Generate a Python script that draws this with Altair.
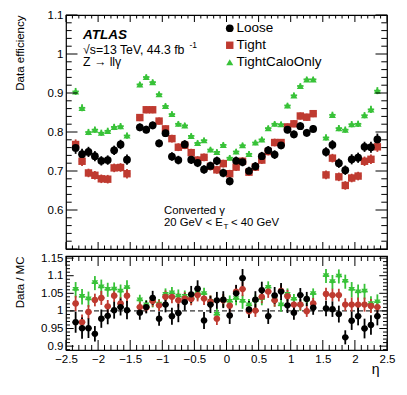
import altair as alt
import pandas as pd

# ---------------- data ----------------
series = ["Loose", "Tight", "TightCaloOnly"]
colors = ["#000000", "#bf3a30", "#38c238"]
top_shapes = ["circle", "square", "triangle-up"]
ratio_shapes = ["circle", "circle", "triangle-down"]

eta = [-2.35, -2.25, -2.15, -2.05, -1.95, -1.85, -1.75, -1.65, -1.55,
       -1.35, -1.25, -1.15, -1.05, -0.95, -0.85, -0.75, -0.65, -0.55, -0.45, -0.35, -0.25, -0.15, -0.05,
       0.05, 0.15, 0.25, 0.35, 0.45, 0.55, 0.65, 0.75, 0.85, 0.95, 1.05, 1.15, 1.25, 1.35,
       1.55, 1.65, 1.75, 1.85, 1.95, 2.05, 2.15, 2.25, 2.35]

loose_eff = [0.759, 0.743, 0.749, 0.738, 0.726, 0.728, 0.753, 0.768, 0.729,
             0.812, 0.806, 0.817, 0.771, 0.797, 0.737, 0.728, 0.768, 0.729, 0.721, 0.704, 0.713, 0.726, 0.695,
             0.674, 0.726, 0.723, 0.700, 0.712, 0.738, 0.753, 0.742, 0.766, 0.806, 0.794, 0.815, 0.798, 0.808,
             0.749, 0.767, 0.720, 0.702, 0.730, 0.734, 0.762, 0.761, 0.781]
tight_eff = [0.768, 0.725, 0.695, 0.689, 0.680, 0.679, 0.708, 0.709, 0.693,
             0.837, 0.857, 0.857, 0.828, 0.808, 0.783, 0.761, 0.766, 0.747, 0.728, 0.735, 0.712, 0.703, 0.719,
             0.693, 0.710, 0.725, 0.697, 0.710, 0.728, 0.750, 0.773, 0.773, 0.813, 0.821, 0.841, 0.838, 0.847,
             0.690, 0.733, 0.685, 0.663, 0.682, 0.687, 0.725, 0.730, 0.762]
calo_eff = [0.904, 0.862, 0.800, 0.806, 0.798, 0.803, 0.813, 0.815, 0.791,
            0.922, 0.941, 0.928, 0.897, 0.867, 0.846, 0.821, 0.817, 0.790, 0.772, 0.779, 0.755, 0.749, 0.767,
            0.734, 0.750, 0.766, 0.744, 0.773, 0.781, 0.810, 0.821, 0.820, 0.868, 0.894, 0.918, 0.935, 0.935,
            0.786, 0.844, 0.810, 0.806, 0.820, 0.821, 0.843, 0.858, 0.906]

loose_err = [0.015, 0.014, 0.013, 0.013, 0.012, 0.012, 0.012, 0.012, 0.013,
             0.010, 0.010, 0.010, 0.010, 0.010, 0.011, 0.011, 0.011, 0.011, 0.011, 0.011, 0.011, 0.011, 0.011,
             0.011, 0.011, 0.011, 0.011, 0.011, 0.011, 0.011, 0.011, 0.010, 0.010, 0.010, 0.010, 0.010, 0.010,
             0.012, 0.012, 0.012, 0.012, 0.013, 0.013, 0.013, 0.014, 0.015]
tight_err = [0.013, 0.012, 0.011, 0.011, 0.011, 0.011, 0.011, 0.011, 0.012,
             0.009, 0.009, 0.009, 0.009, 0.009, 0.010, 0.010, 0.010, 0.010, 0.010, 0.010, 0.010, 0.010, 0.010,
             0.010, 0.010, 0.010, 0.010, 0.010, 0.010, 0.010, 0.010, 0.009, 0.009, 0.009, 0.009, 0.009, 0.009,
             0.011, 0.011, 0.011, 0.011, 0.011, 0.011, 0.012, 0.012, 0.013]
calo_err = [0.009, 0.009, 0.008, 0.008, 0.008, 0.008, 0.008, 0.008, 0.008,
            0.007, 0.007, 0.007, 0.007, 0.007, 0.007, 0.007, 0.007, 0.007, 0.007, 0.007, 0.007, 0.007, 0.007,
            0.007, 0.007, 0.007, 0.007, 0.007, 0.007, 0.007, 0.007, 0.007, 0.007, 0.007, 0.007, 0.007, 0.007,
            0.008, 0.008, 0.008, 0.008, 0.008, 0.008, 0.008, 0.009, 0.009]

loose_ratio = [0.968, 0.951, 0.951, 0.935, 0.978, 0.986, 1.002, 1.011, 1.002,
               0.995, 1.011, 1.037, 0.978, 1.018, 0.985, 0.994, 1.025, 1.047, 1.063, 0.973, 1.018, 1.030, 1.032,
               0.987, 1.050, 1.093, 1.004, 1.032, 1.059, 0.985, 1.044, 1.055, 1.016, 0.995, 1.045, 1.034, 1.009,
               1.007, 1.005, 0.991, 0.925, 0.972, 0.985, 0.950, 0.960, 0.985]
tight_ratio = [1.021, 0.968, 0.997, 1.031, 1.037, 1.013, 1.043, 1.021, 1.043,
               1.011, 1.010, 1.028, 1.016, 1.040, 1.040, 1.030, 1.035, 1.034, 1.045, 1.035, 1.026, 0.978, 1.030,
               1.015, 1.055, 1.062, 0.999, 1.001, 1.040, 1.055, 1.030, 1.057, 1.042, 1.018, 1.018, 0.999, 1.021,
               1.048, 1.045, 1.045, 1.018, 1.018, 1.018, 1.018, 1.014, 1.011]
calo_ratio = [1.060, 1.040, 1.033, 1.079, 1.067, 1.060, 1.061, 1.055, 1.065,
              1.030, 1.016, 1.026, 1.018, 1.046, 1.050, 1.041, 1.040, 1.036, 1.050, 1.048, 1.026, 0.989, 1.028,
              1.026, 1.034, 1.026, 1.016, 1.028, 1.034, 1.066, 1.030, 1.016, 1.046, 1.032, 1.016, 1.030, 1.048,
              1.099, 1.082, 1.098, 1.083, 1.060, 1.053, 1.055, 1.020, 1.025]

loose_rerr = [0.030, 0.030, 0.028, 0.022, 0.026, 0.024, 0.024, 0.024, 0.026,
              0.020, 0.018, 0.020, 0.020, 0.022, 0.024, 0.026, 0.024, 0.024, 0.024, 0.024, 0.024, 0.024, 0.024,
              0.024, 0.024, 0.026, 0.024, 0.024, 0.024, 0.022, 0.024, 0.024, 0.022, 0.020, 0.020, 0.020, 0.020,
              0.022, 0.022, 0.024, 0.020, 0.026, 0.026, 0.028, 0.028, 0.026]
tight_rerr = [0.022, 0.022, 0.020, 0.018, 0.020, 0.018, 0.018, 0.018, 0.020,
              0.016, 0.015, 0.016, 0.016, 0.018, 0.018, 0.020, 0.018, 0.018, 0.018, 0.018, 0.018, 0.018, 0.018,
              0.018, 0.018, 0.020, 0.018, 0.018, 0.018, 0.018, 0.018, 0.018, 0.018, 0.016, 0.016, 0.016, 0.016,
              0.018, 0.018, 0.018, 0.018, 0.020, 0.020, 0.020, 0.020, 0.020]
calo_rerr = [0.022, 0.022, 0.022, 0.020, 0.022, 0.020, 0.020, 0.020, 0.022,
             0.016, 0.015, 0.016, 0.016, 0.018, 0.018, 0.020, 0.018, 0.018, 0.018, 0.018, 0.018, 0.018, 0.018,
             0.018, 0.018, 0.020, 0.018, 0.018, 0.018, 0.018, 0.018, 0.018, 0.018, 0.016, 0.016, 0.016, 0.016,
             0.020, 0.020, 0.020, 0.020, 0.022, 0.022, 0.022, 0.022, 0.022]

x_major_ticks = [-2.5, -2.0, -1.5, -1.0, -0.5, 0.0, 0.5, 1.0, 1.5, 2.0, 2.5]
y_top_labels = [0.6, 0.7, 0.8, 0.9, 1.0, 1.1]
y_bot_labels = [0.9, 0.95, 1.0, 1.05, 1.1, 1.15]

# ---------------- layout constants ----------------
W, H_TOP, H_BOT = 321, 234, 94
FONT = "Liberation Sans"

x_minor_ticks = [round(-2.4 + 0.1 * i, 2) for i in range(49) if round((-2.4 + 0.1 * i) * 2, 6) % 1 != 0]
y_top_major = [0.5] + y_top_labels
y_top_minor = [round(0.52 + 0.02 * i, 2) for i in range(29) if abs(round((0.52 + 0.02 * i) * 10, 6) % 1) > 1e-6]
y_bot_minor = [round(0.89 + 0.01 * i, 2) for i in range(27) if abs(round((0.89 + 0.01 * i) * 20, 6) % 1) > 1e-6]

x_scale = alt.Scale(domain=[-2.5, 2.5], nice=False, zero=False)
y_top_scale = alt.Scale(domain=[0.5, 1.1], nice=False, zero=False)
y_bot_scale = alt.Scale(domain=[0.889, 1.156], nice=False, zero=False)
color_scale = alt.Scale(domain=series, range=colors)

top_y_axis = alt.Axis(values=y_top_labels, format="~g", title="Data efficiency",
                      titleAnchor="end", titleX=-46, titleBaseline="middle",
                      labelFlush=False, labelOverlap=False, labelPadding=3)
bot_y_axis = alt.Axis(values=y_bot_labels, format="~g", title="Data / MC",
                      titleAnchor="end", titleX=-46, titleBaseline="middle",
                      labelFlush=False, labelOverlap=False, labelPadding=3)
bot_x_axis = alt.Axis(values=x_major_ticks, format="~g", labelFlush=False, labelOverlap=False,
                      labelPadding=3, title="\u03b7", titleAnchor="end", titleX=313, titleY=23,
                      titleAlign="right", titleBaseline="alphabetic", titleFontSize=14)


def long_table(values, errors):
    rows = []
    # draw order: TightCaloOnly first, Loose last (on top)
    for name, vals, errs in reversed(list(zip(series, values, errors))):
        for x, v, e in zip(eta, vals, errs):
            rows.append({"series": name, "eta": x, "val": v, "lo": v - e, "hi": v + e,
                         "xlo": x - 0.05, "xhi": x + 0.05})
    return pd.DataFrame(rows)


def bar_layers(df, yscale, xaxis, yaxis, width):
    out = []
    for name, col in reversed(list(zip(series, colors))):
        c = alt.Chart(df[df["series"] == name])
        out.append(c.mark_rule(strokeWidth=width, color=col).encode(
            x=alt.X("eta:Q", scale=x_scale, axis=xaxis),
            y=alt.Y("lo:Q", scale=yscale, axis=yaxis), y2="hi:Q"))
        out.append(c.mark_rule(strokeWidth=width, color=col).encode(
            x=alt.X("xlo:Q", scale=x_scale, axis=xaxis), x2="xhi:Q",
            y=alt.Y("val:Q", scale=yscale, axis=yaxis)))
    return out


def tick_layers(h, yscale, xaxis, yaxis, ymaj, ymin, lx, ly):
    out = []
    for vals, L in ((x_major_ticks, lx[0]), (x_minor_ticks, lx[1])):
        c = alt.Chart(pd.DataFrame({"t": vals})).mark_rule(color="black", strokeWidth=1)
        ex = alt.X("t:Q", scale=x_scale, axis=xaxis)
        out.append(c.encode(x=ex, y=alt.value(h), y2=alt.value(h - L)))
        out.append(c.encode(x=ex, y=alt.value(0), y2=alt.value(L)))
    for vals, L in ((ymaj, ly[0]), (ymin, ly[1])):
        c = alt.Chart(pd.DataFrame({"t": vals})).mark_rule(color="black", strokeWidth=1)
        ey = alt.Y("t:Q", scale=yscale, axis=yaxis)
        out.append(c.encode(y=ey, x=alt.value(0), x2=alt.value(L)))
        out.append(c.encode(y=ey, x=alt.value(W), x2=alt.value(W - L)))
    return out


def label(txt, x, y, size, **kw):
    return alt.Chart(pd.DataFrame({"label": [txt]})).mark_text(
        align="left", baseline="alphabetic", font=FONT, fontSize=size, color="black", **kw
    ).encode(x=alt.value(x), y=alt.value(y), text="label:N")


# ---------------- top panel ----------------
top_data = long_table([loose_eff, tight_eff, calo_eff], [loose_err, tight_err, calo_err])
legend_cfg = dict(title=None, orient="none", legendX=157, legendY=6.5, labelFont=FONT,
                  labelFontSize=13.5, labelColor="black", symbolSize=60, rowPadding=2,
                  padding=0, labelOffset=0, symbolStrokeWidth=0, symbolOpacity=1)

top_pts = alt.Chart(top_data).mark_point(filled=True, opacity=1, strokeWidth=0).encode(
    x=alt.X("eta:Q", scale=x_scale, axis=None),
    y=alt.Y("val:Q", scale=y_top_scale, axis=top_y_axis),
    color=alt.Color("series:N", scale=color_scale, legend=alt.Legend(**legend_cfg)),
    shape=alt.Shape("series:N", scale=alt.Scale(domain=series, range=top_shapes),
                    legend=alt.Legend(**legend_cfg)),
    size=alt.Size("series:N", scale=alt.Scale(domain=series, range=[60, 50, 56]), legend=None))

top_texts = [
    label("ATLAS", 17, 23.7, 13.5, fontStyle="italic", fontWeight="bold"),
    label("\u221As=13 TeV, 44.3 fb", 17, 38.7, 12.3),
    label("-1", 123.5, 33, 8.5),
    label("Z \u2192 ll\u03b3", 17, 51.3, 12.3),
    label("Converted \u03b3", 98, 199, 11.3),
    label("20 GeV < E", 98, 211, 11.3),
    label("T", 157.5, 214, 8),
    label("< 40 GeV", 165, 211, 11.3),
]

top = alt.layer(
    *bar_layers(top_data, y_top_scale, None, top_y_axis, 1.8),
    top_pts,
    *tick_layers(H_TOP, y_top_scale, None, top_y_axis, y_top_major, y_top_minor, (7, 3.5), (11.5, 5.7)),
    *top_texts,
).properties(width=W, height=H_TOP)

# ---------------- ratio panel ----------------
bot_data = long_table([loose_ratio, tight_ratio, calo_ratio], [loose_rerr, tight_rerr, calo_rerr])

unity = alt.Chart(pd.DataFrame({"r": [1.0]})).mark_rule(
    color="black", strokeWidth=1, strokeDash=[5, 3]
).encode(y=alt.Y("r:Q", scale=y_bot_scale, axis=bot_y_axis))

bot_pts = alt.Chart(bot_data).mark_point(filled=True, opacity=1, strokeWidth=0).encode(
    x=alt.X("eta:Q", scale=x_scale, axis=bot_x_axis),
    y=alt.Y("val:Q", scale=y_bot_scale, axis=bot_y_axis),
    color=alt.Color("series:N", scale=color_scale, legend=None),
    shape=alt.Shape("series:N", scale=alt.Scale(domain=series, range=ratio_shapes), legend=None),
    size=alt.Size("series:N", scale=alt.Scale(domain=series, range=[40, 40, 46]), legend=None))

bottom = alt.layer(
    unity,
    *bar_layers(bot_data, y_bot_scale, bot_x_axis, bot_y_axis, 1.8),
    bot_pts,
    *tick_layers(H_BOT, y_bot_scale, bot_x_axis, bot_y_axis, y_bot_labels, y_bot_minor, (10, 5), (7.7, 4)),
).properties(width=W, height=H_BOT)

chart = alt.vconcat(top, bottom, spacing=7, bounds="flush").resolve_scale(
    color="independent", shape="independent", size="independent"
).properties(
    padding={"left": 5, "top": 0, "right": 2, "bottom": 2}
).configure_view(
    stroke="black", strokeWidth=1.2
).configure_axis(
    labelFont=FONT, titleFont=FONT, labelColor="black", titleColor="black",
    labelFontSize=11.5, titleFontSize=11.5, titleFontWeight="normal",
    grid=False, domain=False, ticks=False
)

chart.save("out.html", embed_options={"renderer": "svg", "actions": False})
